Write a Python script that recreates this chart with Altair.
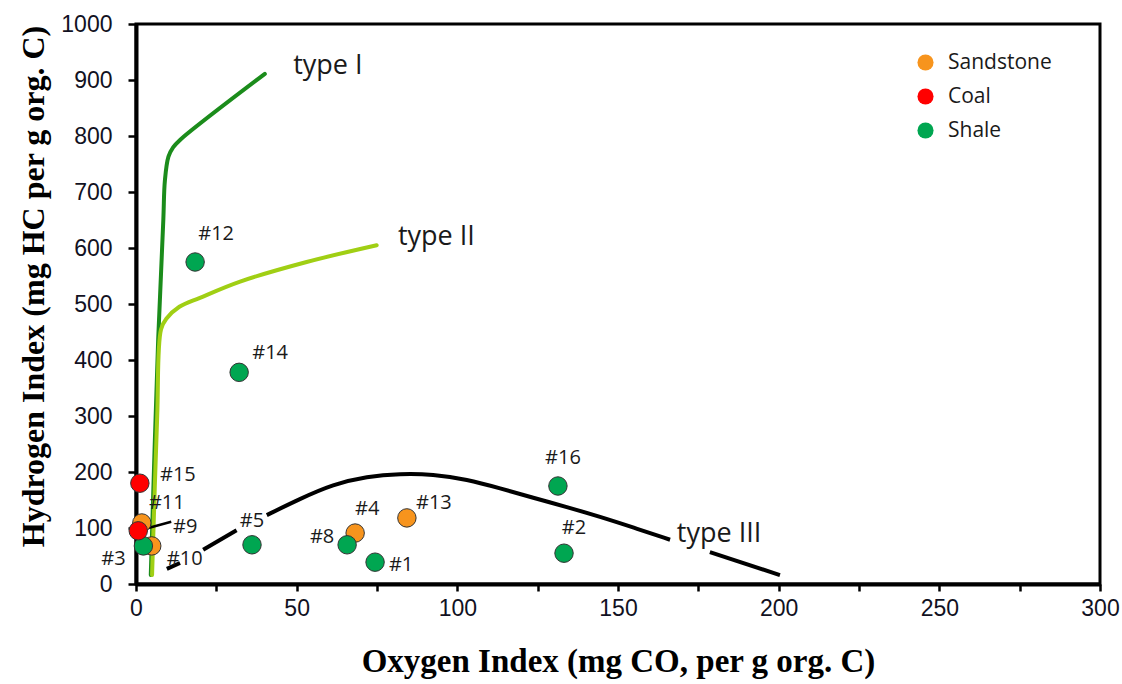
import altair as alt
import pandas as pd

# ---- Rock-Eval samples (Oxygen Index vs Hydrogen Index) ----
samples = ["#10", "#3", "#11", "#9", "#15", "#5", "#4", "#8", "#1", "#13", "#12", "#14", "#16", "#2"]
lithology = ["Sandstone", "Shale", "Sandstone", "Coal", "Coal", "Shale", "Sandstone", "Shale",
             "Shale", "Sandstone", "Shale", "Shale", "Shale", "Shale"]
oxygen_index = [4.9, 2.3, 1.8, 0.7, 1.2, 36.1, 68.2, 65.7, 74.4, 84.3, 18.4, 32.1, 131.3, 133.2]
hydrogen_index = [68, 68, 109, 95, 180, 70, 91, 70, 39, 118, 575, 378, 175, 55]

# label offsets from each marker, in pixels
label_dx = [33, -30, 25, 47, 38, 0, 12, -25, 26, 27, 21, 31, 5, 10]
label_dy = [13, 13, -20, -4, -8, -24, -24, -8, 3, -15, -28, -19, -28, -25]

# ---- kerogen evolution paths ----
type1_oi = [4.6, 6.9, 8.5, 9.0, 10.1, 11.6, 13.7, 40.1]
type1_hi = [16, 436, 650, 721, 763, 780, 793, 911]

type2_oi = [5.0, 6.6, 7.8, 9.5, 13.5, 19.9, 32.4, 53.1, 74.9]
type2_hi = [16, 300, 455, 474, 495, 511, 540, 575, 605]

# type III is drawn in pieces, broken where labels sit on it
type3_seg = [0, 0, 1, 1, 2, 2, 2, 2, 2, 2, 2, 2, 2, 2, 2, 2, 2, 3, 3]
type3_oi = [9.6, 13.7, 20.9, 31.3, 40.7, 51.0, 61.3, 71.9, 82.2, 92.4, 103.0, 113.3,
            123.6, 134.1, 144.4, 154.7, 166.2, 178.6, 200.4]
type3_hi = [27, 37.5, 61, 96, 123, 152, 178, 192, 197, 196, 187, 171,
            154, 137.5, 120, 101, 79, 57, 16]

type_names = ["type I", "type II", "type III"]
type_label_oi = [48.9, 81.5, 168.3]
type_label_hi = [911, 605, 75.5]

lith_domain = ["Sandstone", "Coal", "Shale"]
lith_colors = ["#f7941d", "#ff0000", "#00a651"]

W, H = 964, 560
X_MAX, Y_MAX = 300, 1000
px_x = W / X_MAX
px_y = H / Y_MAX

pts = pd.DataFrame({
    "sample": samples,
    "lith": lithology,
    "oi": oxygen_index,
    "hi": hydrogen_index,
})
pts["order"] = range(len(pts))
pts["lx"] = [o + dx / px_x for o, dx in zip(oxygen_index, label_dx)]
pts["ly"] = [h - dy / px_y for h, dy in zip(hydrogen_index, label_dy)]

t1 = pd.DataFrame({"oi": type1_oi, "hi": type1_hi})
t2 = pd.DataFrame({"oi": type2_oi, "hi": type2_hi})
t3 = pd.DataFrame({"oi": type3_oi, "hi": type3_hi, "seg": type3_seg})
tl = pd.DataFrame({"name": type_names, "oi": type_label_oi, "hi": type_label_hi})

# leader from sample #9 to its label
i9 = samples.index("#9")
lead = pd.DataFrame({
    "oi": [oxygen_index[i9]], "hi": [hydrogen_index[i9]],
    "oi2": [oxygen_index[i9] + 33 / px_x], "hi2": [hydrogen_index[i9] + 9 / px_y],
})

x_scale = alt.Scale(domain=[0, X_MAX], nice=False, zero=False)
y_scale = alt.Scale(domain=[0, Y_MAX], nice=False, zero=False)

x_axis = alt.Axis(
    title="Oxygen Index (mg CO, per g org. C)",
    values=list(range(0, X_MAX + 1, 25)),
    format="d",
    labelExpr="datum.value % 50 == 0 ? datum.label : ''",
    grid=False, tickSize=7, tickWidth=2.5, tickColor="black",
    domainColor="black", domainWidth=4,
    labelFont="Liberation Sans", labelFontSize=23, labelColor="#111122",
    labelPadding=6, labelFlush=False,
    titleFont="Liberation Serif", titleFontSize=33, titleFontWeight="bold",
    titleColor="black", titlePadding=25,
)
y_axis = alt.Axis(
    title="Hydrogen Index (mg HC per g org. C)",
    values=list(range(0, Y_MAX + 1, 50)),
    format="d",
    labelExpr="datum.value % 100 == 0 ? datum.label : ''",
    grid=False, tickSize=8, tickWidth=2.5, tickColor="black",
    domainColor="black", domainWidth=4,
    labelFont="Liberation Sans", labelFontSize=23, labelColor="#111122",
    labelPadding=16, labelFlush=False,
    titleFont="Liberation Serif", titleFontSize=32, titleFontWeight="bold",
    titleColor="black", titlePadding=10, titleY=262,
)

X = alt.X("oi:Q", scale=x_scale, axis=x_axis)
Y = alt.Y("hi:Q", scale=y_scale, axis=y_axis)

line1 = alt.Chart(t1).mark_line(color="#1b8c1b", strokeWidth=4, strokeCap="round",
                                interpolate="catmull-rom").encode(x=X, y=Y, order="hi:Q")
line2 = alt.Chart(t2).mark_line(color="#a0cf14", strokeWidth=4, strokeCap="round",
                                interpolate="catmull-rom").encode(x=X, y=Y, order="hi:Q")
line3 = alt.Chart(t3).mark_line(color="black", strokeWidth=4,
                                interpolate="basis").encode(x=X, y=Y, detail="seg:N")

leader = alt.Chart(lead).mark_rule(color="black", strokeWidth=2.5).encode(
    x=X, y=Y, x2="oi2:Q", y2="hi2:Q")

points = alt.Chart(pts).mark_circle(size=340, opacity=1, stroke="#333333", strokeWidth=1).encode(
    x=X, y=Y,
    order=alt.Order("order:Q"),
    color=alt.Color(
        "lith:N",
        scale=alt.Scale(domain=lith_domain, range=lith_colors),
        legend=alt.Legend(
            title=None, orient="none", legendX=779, legendY=28,
            symbolType="circle", symbolSize=260, symbolStrokeWidth=0,
            labelFont="Open Sans", labelFontSize=21, labelColor="#1a1a1a",
            labelOffset=12, rowPadding=12, padding=0,
        ),
    ),
)

labels = alt.Chart(pts).mark_text(
    font="Open Sans", fontSize=20, color="#1a1a1a", align="center", baseline="middle"
).encode(
    x=alt.X("lx:Q", scale=x_scale), y=alt.Y("ly:Q", scale=y_scale), text="sample:N")

type_labels = alt.Chart(tl).mark_text(
    font="Open Sans", fontSize=27, color="#1a1a1a", align="left", baseline="alphabetic"
).encode(x=alt.X("oi:Q", scale=x_scale), y=alt.Y("hi:Q", scale=y_scale), text="name:N")

chart = alt.layer(line1, line2, line3, leader, points, labels, type_labels).properties(
    width=W, height=H,
    autosize=alt.AutoSizeParams(type="none"),
    padding={"left": 136, "top": 24, "right": 22, "bottom": 100},
    background="white",
).configure_view(stroke="black", strokeWidth=3)

chart.save("out.html", embed_options={"renderer": "svg", "actions": False})
